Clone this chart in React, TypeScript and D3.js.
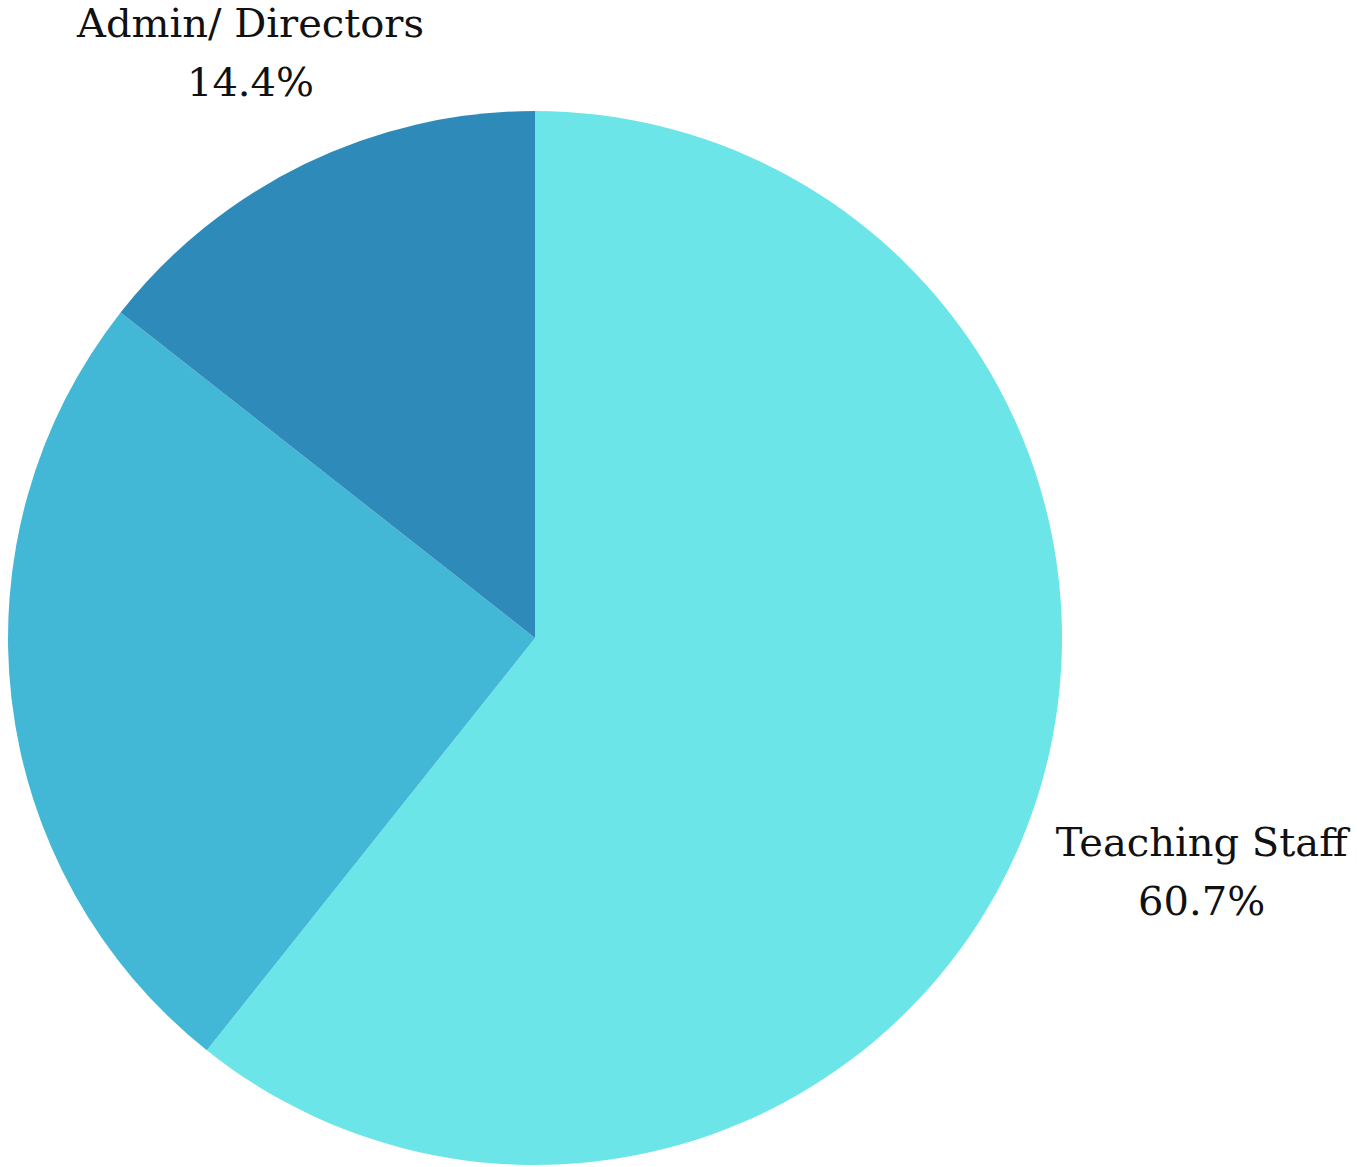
import React, { useEffect, useRef } from 'react';
import * as d3 from 'd3';

// slice data, clockwise from 12 o'clock
const categories = ['Teaching Staff', 'Support Staff', 'Admin/ Directors'];
const values = [60.7, 24.9, 14.4];
const colors = ['#6be5e8', '#42b7d6', '#2e8bb9'];
// which slices carry a visible label (the middle one falls off the canvas)
const labelled = ['Teaching Staff', 'Admin/ Directors'];

const WIDTH = 1357;
const HEIGHT = 1167;

const App = () => {
  const svgRef = useRef<SVGSVGElement>(null);

  useEffect(() => {
    document.body.style.margin = '0';
    const svg = d3.select(svgRef.current);
    svg.selectAll('*').remove();

    const cx = 535;
    const cy = 638;
    const radius = 527;

    const data = categories.map((c, i) => ({ name: c, value: values[i], color: colors[i] }));

    const pie = d3.pie<any>().value(d => d.value).sort(null);
    const arcs = pie(data);
    const arc = d3.arc<any>().innerRadius(0).outerRadius(radius);

    const g = svg.append('g').attr('transform', `translate(${cx}, ${cy})`);

    g.selectAll('path')
      .data(arcs)
      .join('path')
      .attr('d', arc)
      .attr('fill', d => d.data.color);

    // labels sit outside the pie along the slice's middle angle
    const labelRadius: Record<string, number> = {
      'Teaching Staff': 1.34,
      'Admin/ Directors': 1.235,
    };

    const labels = g.selectAll('.label')
      .data(arcs.filter(d => labelled.includes(d.data.name)))
      .join('text')
      .attr('class', 'label')
      .attr('text-anchor', 'middle')
      .style('font-family', '"DejaVu Serif", serif')
      .style('font-size', '40px')
      .attr('fill', '#111')
      .attr('transform', d => {
        const a = (d.startAngle + d.endAngle) / 2;
        const r = radius * labelRadius[d.data.name];
        return `translate(${r * Math.sin(a)}, ${-r * Math.cos(a)})`;
      });

    labels.append('tspan')
      .attr('x', 0)
      .attr('dy', '-0.38em')
      .text(d => d.data.name);

    labels.append('tspan')
      .attr('x', 0)
      .attr('dy', '1.47em')
      .text(d => `${d.data.value.toFixed(1)}%`);
  }, []);

  return (
    <div>
      <svg ref={svgRef} width={WIDTH} height={HEIGHT} style={{ display: 'block' }}></svg>
    </div>
  );
};

export default App;
